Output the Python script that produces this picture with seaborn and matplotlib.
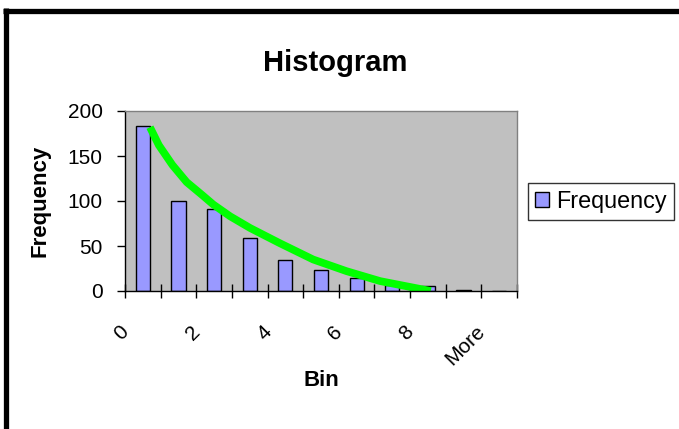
"""Excel-style histogram of bin frequencies with a fitted decay curve."""

import matplotlib

matplotlib.use("Agg")
import matplotlib.pyplot as plt
import matplotlib.patches as mpatches
from matplotlib.lines import Line2D
from matplotlib.transforms import ScaledTranslation
import numpy as np
import pandas as pd
import seaborn as sns

# data
bins = ["0", "1", "2", "3", "4", "5", "6", "7", "8", "9", "More"]
frequency = [183, 100, 91, 59, 34, 23, 15, 7, 6, 1, 0]
shown_labels = ["0", "2", "4", "6", "8", "More"]

# green curve, x in bin positions
curve_x = [0.20, 0.45, 0.83, 1.23, 1.67, 1.98, 2.45, 3.01, 3.38, 3.85, 4.78, 5.72, 6.66, 8.08]
curve_y = [182, 162, 140, 121, 106.5, 96, 83, 70, 62.5, 53, 35, 22, 11, 0]

sns.set_style("white")
plt.rcParams["font.family"] = ["Liberation Sans", "DejaVu Sans"]
plt.rcParams.update({"text.color": "black", "axes.labelcolor": "black",
                     "xtick.color": "black", "ytick.color": "black"})

bar_df = pd.DataFrame({"bin": bins, "frequency": frequency})
curve_df = pd.DataFrame({"x": curve_x, "y": curve_y})

fig = plt.figure(figsize=(6.79, 4.29), dpi=100)
fig.patch.set_facecolor("white")
W, H = 679, 429
ax = fig.add_axes([125 / W, 1 - 291 / H, 392 / W, 180 / H])
ax.set_facecolor("#C0C0C0")

sns.barplot(data=bar_df, x="bin", y="frequency", order=bins, color="#9999FF",
            saturation=1, width=0.4, edgecolor="black", linewidth=1, ax=ax)
sns.lineplot(data=curve_df, x="x", y="y", sort=False, color="#00FF00",
             linewidth=5.5, solid_capstyle="butt", solid_joinstyle="round",
             legend=False, ax=ax)

ax.set_xlim(-0.5, len(bins) - 0.5)
ax.set_ylim(0, 200)
ax.set_yticks([0, 50, 100, 150, 200])

# labels on every other bin, ticks on bin boundaries like Excel
ax.set_xticks([bins.index(b) for b in shown_labels])
ax.set_xticklabels(shown_labels, rotation=45, ha="right", va="center",
                   rotation_mode="anchor")
ax.set_xticks(np.arange(-0.5, len(bins), 1), minor=True)
ax.tick_params(axis="x", which="major", length=0, pad=27, labelsize=15)
ax.tick_params(axis="x", which="minor", bottom=True, direction="inout",
               length=10, width=1, color="black")
ax.tick_params(axis="y", which="major", direction="out", length=6, width=1,
               color="black", pad=10, labelsize=15, left=True)
offset = ScaledTranslation(-17 / 100, 0, fig.dpi_scale_trans)
for lab in ax.get_xticklabels():
    lab.set_transform(lab.get_transform() + offset)

ax.set_xlabel("Bin", fontsize=16, fontweight="bold")
ax.set_ylabel("Frequency", fontsize=16, fontweight="bold")
ax.xaxis.set_label_coords(0.5, -0.44)
ax.yaxis.set_label_coords(-0.19, 0.5)

for side in ["top", "right"]:
    ax.spines[side].set_color("#808080")
for side in ["left", "bottom"]:
    ax.spines[side].set_color("black")
for sp in ax.spines.values():
    sp.set_linewidth(1)
    sp.set_visible(True)

fig.text(335 / W, 1 - 49 / H, "Histogram", ha="center", va="top",
         fontsize=21, fontweight="bold")

handle = mpatches.Patch(facecolor="#9999FF", edgecolor="black", label="Frequency")
leg = ax.legend(handles=[handle], loc="upper left",
                bbox_to_anchor=(528 / W, 1 - 183 / H), bbox_transform=fig.transFigure,
                fontsize=16.8, frameon=True, fancybox=False, borderpad=0.3,
                handlelength=0.62, handleheight=0.62, handletextpad=0.3,
                borderaxespad=0)
leg.get_frame().set_edgecolor("black")
leg.get_frame().set_linewidth(1)

# chart-area border: thick black on top and left
fig.add_artist(Line2D([3 / W, 1], [1 - 10.5 / H, 1 - 10.5 / H], color="black",
                      linewidth=3.8, transform=fig.transFigure, solid_capstyle="butt"))
fig.add_artist(Line2D([5.5 / W, 5.5 / W], [0, 1 - 8 / H], color="black",
                      linewidth=3.8, transform=fig.transFigure, solid_capstyle="butt"))

fig.savefig("out.png", dpi=100)
plt.close(fig)
